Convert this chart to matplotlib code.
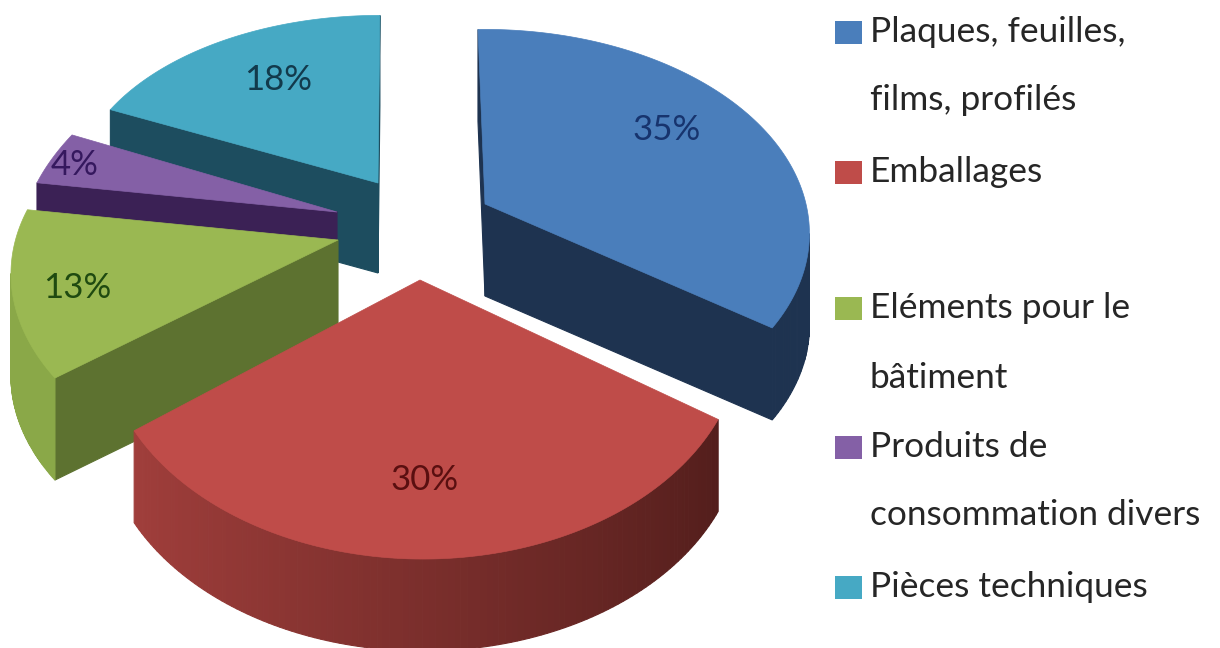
import numpy as np
import matplotlib
matplotlib.use('Agg')
import matplotlib.pyplot as plt
from matplotlib.patches import Polygon, Rectangle
from matplotlib.colors import to_rgb

# Data
categories = ['Plaques, feuilles,\nfilms, profilés', 'Emballages', 'Eléments pour le\nbâtiment',
              'Produits de\nconsommation divers', 'Pièces techniques']
values = [35, 30, 13, 4, 18]

# Style / layout, one entry per slice
top_colors = ['#4a7ebb', '#bf4c49', '#9ab852', '#8460a6', '#46a9c4']
cut_colors = ['#1e3350', '#8c3432', '#5d7230', '#3b2155', '#1d4d5f']
arc_left = ['#1e3350', '#a23f3c', '#8aa848', '#3b2155', '#1d4d5f']
arc_right = ['#1e3350', '#511d1b', '#7f9e43', '#3b2155', '#1d4d5f']
label_colors = ['#17346e', '#5a0f10', '#1f4a10', '#35185e', '#123a4c']
apex = [(485, 204), (420, 280), (338, 240), (337, 212), (378, 183)]
# screen vectors of the slice's unit circle: x = a*u + b*v, y = c*u + d*v
coef_a = [320, 310, 324, 314, 303]
coef_b = [8, 9, 21, -45, -2]
coef_c = [-4, -6, -6, -8, 0]
coef_d = [199, 212, 199, 198, 176]
persp = [0.14, 0.24, 0.20, 0.0, 0.05]
depth = [92, 92, 102, 92, 90]
label_pos = [(667, 130), (425, 480), (77, 288), (75, 165), (278, 80)]
legend_rows = [[(32, True), (100, False)], [(172, True)], [(308, True), (378, False)],
               [(447, True), (515, False)], [(587, True)]]

plt.rcParams['font.family'] = ['Lato', 'DejaVu Sans']

fig = plt.figure(figsize=(12.2, 6.48), dpi=100)
ax = fig.add_axes([0, 0, 1, 1])
ax.set_xlim(0, 1220)
ax.set_ylim(648, 0)
ax.axis('off')


def punto(i, ang):
    """Point of the top face of slice i for an angle clockwise from the top."""
    u = np.sin(ang)
    v = -np.cos(ang)
    s = 1 / (1 - persp[i] * v)
    return (apex[i][0] + (coef_a[i] * u + coef_b[i] * v) * s,
            apex[i][1] + (coef_c[i] * u + coef_d[i] * v) * s)


def tono(i, ang):
    """Side colour of the arc, from its left end to its right end."""
    t = np.clip((np.sin(ang) + 0.85) / 1.7, 0, 1)
    izq = np.array(to_rgb(arc_left[i]))
    der = np.array(to_rgb(arc_right[i]))
    return tuple(izq + (der - izq) * t)


total = sum(values)
acum = np.cumsum([0] + values) / total * 2 * np.pi

# back slices first so the nearer ones cover them
orden = [4, 3, 0, 2, 1]
for i in orden:
    angs = np.linspace(acum[i], acum[i + 1], 120)
    arco = [punto(i, a) for a in angs]
    borde = [apex[i]] + arco + [apex[i]]
    caras = []
    for k in range(len(borde) - 1):
        p, q = borde[k], borde[k + 1]
        if q[0] >= p[0]:
            continue
        if 0 < k < len(borde) - 2:
            col = tono(i, angs[k])
        else:
            col = cut_colors[i]
        quad = [p, q, (q[0], q[1] + depth[i]), (p[0], p[1] + depth[i])]
        caras.append((max(p[1], q[1]), quad, col))
    for _, quad, col in sorted(caras, key=lambda c: c[0]):
        ax.add_patch(Polygon(quad, closed=True, facecolor=col, edgecolor=col, lw=0.8))
    ax.add_patch(Polygon(borde[:-1], closed=True, facecolor=top_colors[i], edgecolor=top_colors[i], lw=0.5))
    ax.text(label_pos[i][0], label_pos[i][1], f'{values[i]}%', ha='center', va='center',
            fontsize=25, color=label_colors[i])

# Legend
for i, cat in enumerate(categories):
    lineas = cat.split('\n')
    for linea, (y, cuadro) in zip(lineas, legend_rows[i]):
        if cuadro:
            ax.add_patch(Rectangle((835, y - 11), 27, 23, facecolor=top_colors[i], edgecolor='none'))
        ax.text(870, y, linea, ha='left', va='center', fontsize=25.4, color='#262626')

fig.savefig('out.png', dpi=100)
